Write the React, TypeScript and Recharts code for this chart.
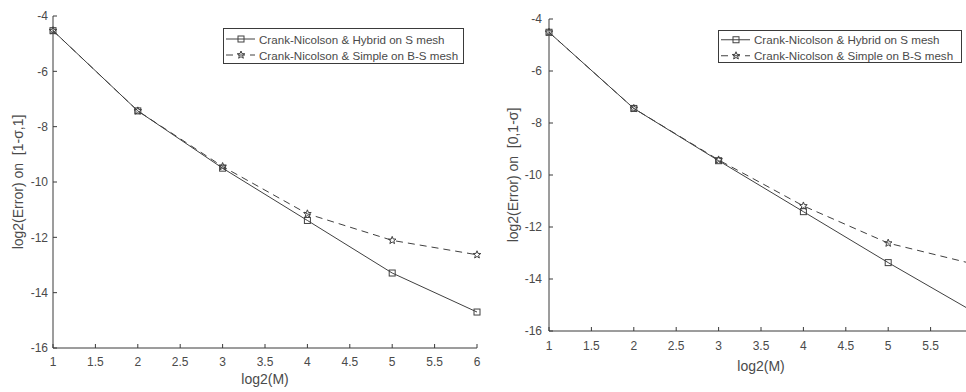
import { LineChart, Line, XAxis, YAxis, Legend, Label } from 'recharts'

// log2(M) values and log2(Error)
const logM = [1, 2, 3, 4, 5, 6]
const leftHybrid = [-4.53, -7.43, -9.5, -11.39, -13.29, -14.7]
const leftSimple = [-4.53, -7.43, -9.44, -11.15, -12.11, -12.63]
const rightHybrid = [-4.51, -7.44, -9.45, -11.41, -13.37, -15.25]
const rightSimple = [-4.51, -7.44, -9.42, -11.19, -12.62, -13.42]

const xTicks = [1, 1.5, 2, 2.5, 3, 3.5, 4, 4.5, 5, 5.5, 6]
const yTicks = [-16, -14, -12, -10, -8, -6, -4]

const hybridName = 'Crank-Nicolson & Hybrid on S mesh'
const simpleName = 'Crank-Nicolson & Simple on B-S mesh'

const FONT = '"Liberation Sans", Arial, Helvetica, sans-serif'
const AXIS = '#3a3a3a'
const LINE = '#404040'
const TEXT = '#4a4a4a'

function SquareDot({ cx, cy }: any) {
  if (cx == null || cy == null) return null
  return <rect x={cx - 3} y={cy - 3} width={6} height={6} fill="none" stroke={LINE} strokeWidth={1} />
}

function StarDot({ cx, cy }: any) {
  if (cx == null || cy == null) return null
  const pts: string[] = []
  for (let i = 0; i < 10; i++) {
    const r = i % 2 === 0 ? 4 : 1.7
    const a = ((-90 + 36 * i) * Math.PI) / 180
    pts.push(`${cx + r * Math.cos(a)},${cy + r * Math.sin(a)}`)
  }
  return <polygon points={pts.join(' ')} fill="none" stroke={LINE} strokeWidth={1} />
}

const markers: Record<string, any> = { hybrid: SquareDot, simple: StarDot }

function MatlabLegend({ payload, rowH, padTop }: any) {
  return (
    <div
      style={{
        border: `1px solid ${AXIS}`,
        background: '#fff',
        boxSizing: 'border-box',
        width: '100%',
        height: '100%',
        paddingTop: padTop,
        fontFamily: FONT,
        fontSize: 11.6,
        color: TEXT,
      }}
    >
      {(payload || []).map((entry: any) => {
        const Mark = markers[entry.dataKey]
        return (
          <div key={entry.dataKey} style={{ display: 'flex', alignItems: 'center', height: rowH, whiteSpace: 'nowrap' }}>
            <svg width={35} height={rowH} style={{ flex: 'none' }}>
              <line
                x1={2}
                x2={31}
                y1={rowH / 2}
                y2={rowH / 2}
                stroke={LINE}
                strokeDasharray={entry.payload?.strokeDasharray}
              />
              <Mark cx={17} cy={rowH / 2} />
            </svg>
            <span>{entry.value}</span>
          </div>
        )
      })}
    </div>
  )
}

function Panel({ hybrid, simple, yLabel, width, top, plotLeft, plotRight, bottom, xAxisH, xTickMargin, yTickMargin, yLabelX, legend, lastXLabel }: any) {
  const rows = logM.map((m, i) => ({ x: m, hybrid: hybrid[i], simple: simple[i] }))
  const tickStyle = { fontFamily: FONT, fontSize: 12, fill: TEXT }
  return (
    <LineChart
      width={width}
      height={392}
      data={rows}
      margin={{ top, left: 0, right: width - plotRight, bottom: 392 - bottom - xAxisH }}
    >
      <XAxis
        dataKey="x"
        type="number"
        domain={[1, 6]}
        ticks={xTicks}
        interval={0}
        height={xAxisH}
        tickSize={-4}
        tickMargin={xTickMargin}
        stroke={AXIS}
        tick={tickStyle}
        tickFormatter={(v: number) => (v === 6 && !lastXLabel ? '' : String(v))}
      >
        <Label value="log2(M)" position="insideBottom" offset={0} style={{ fontFamily: FONT, fontSize: 14, fill: TEXT }} />
      </XAxis>
      <XAxis
        xAxisId="top"
        orientation="top"
        dataKey="x"
        type="number"
        domain={[1, 6]}
        ticks={xTicks}
        interval={0}
        height={0}
        tickSize={-4}
        stroke={AXIS}
        tickFormatter={() => ''}
      />
      <YAxis
        type="number"
        domain={[-16, -4]}
        ticks={yTicks}
        interval={0}
        width={plotLeft}
        tickSize={-4}
        tickMargin={yTickMargin}
        stroke={AXIS}
        tick={tickStyle}
      >
        <Label
          value={yLabel}
          angle={-90}
          position="insideLeft"
          offset={yLabelX}
          style={{ fontFamily: FONT, fontSize: 14, fill: TEXT, textAnchor: 'middle', whiteSpace: 'pre' }}
        />
      </YAxis>
      <YAxis
        yAxisId="right"
        orientation="right"
        type="number"
        domain={[-16, -4]}
        ticks={yTicks}
        interval={0}
        width={0}
        tickSize={-4}
        stroke={AXIS}
        tickFormatter={() => ''}
      />
      <Legend
        layout="vertical"
        align="center"
        verticalAlign="middle"
        wrapperStyle={{ top: legend.top, left: legend.left, width: legend.width, height: legend.height, right: 'auto', bottom: 'auto' }}
        content={(props: any) => <MatlabLegend {...props} rowH={legend.rowH} padTop={legend.padTop} />}
      />
      <Line
        dataKey="hybrid"
        name={hybridName}
        stroke={LINE}
        strokeWidth={1}
        dot={(p: any) => <SquareDot key={`h${p.index}`} {...p} />}
        isAnimationActive={false}
      />
      <Line
        dataKey="simple"
        name={simpleName}
        stroke={LINE}
        strokeWidth={1}
        strokeDasharray="7 5"
        dot={(p: any) => <StarDot key={`s${p.index}`} {...p} />}
        isAnimationActive={false}
      />
    </LineChart>
  )
}

export default function App() {
  return (
    <div style={{ position: 'absolute', left: 0, top: 0, width: 966, height: 392, overflow: 'hidden', background: '#fff' }}>
      <div style={{ position: 'absolute', left: 0, top: 0, width: 481, height: 392, overflow: 'hidden' }}>
        <Panel
          hybrid={leftHybrid}
          simple={leftSimple}
          yLabel={'log2(Error) on\u00a0\u00a0[1-σ,1]'}
          width={490}
          top={16}
          plotLeft={53}
          plotRight={477}
          bottom={348}
          xAxisH={36}
          xTickMargin={13}
          yTickMargin={9}
          yLabelX={18}
          lastXLabel
          legend={{ top: 28, left: 223, width: 241, height: 36, rowH: 16, padTop: 2 }}
        />
      </div>
      <div style={{ position: 'absolute', left: 480, top: 0, width: 486, height: 392, overflow: 'hidden' }}>
        <Panel
          hybrid={rightHybrid}
          simple={rightSimple}
          yLabel={'log2(Error) on\u00a0\u00a0[0,1-σ]'}
          width={500}
          top={19}
          plotLeft={69}
          plotRight={493}
          bottom={331}
          xAxisH={40}
          xTickMargin={14}
          yTickMargin={11}
          yLabelX={33}
          lastXLabel={false}
          legend={{ top: 30, left: 238, width: 244, height: 33, rowH: 15.5, padTop: 1 }}
        />
      </div>
    </div>
  )
}
